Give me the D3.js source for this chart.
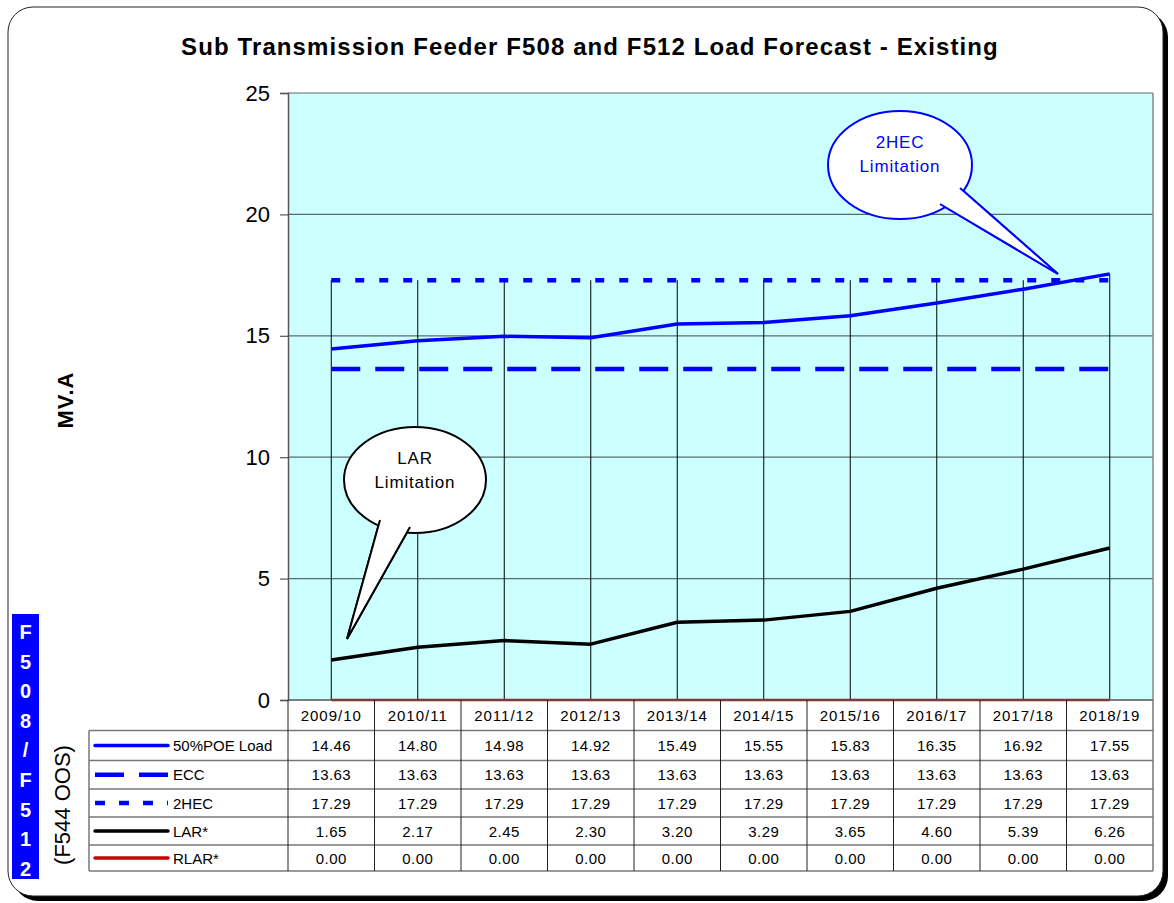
<!DOCTYPE html>
<html><head><meta charset="utf-8">
<script src="https://cdn.jsdelivr.net/npm/d3@7"></script>
<style>body{margin:0;background:#fff;} svg{display:block;font-family:"Liberation Sans",Arial,sans-serif;}</style>
</head><body>
<script>
const categories = ["2009/10","2010/11","2011/12","2012/13","2013/14","2014/15","2015/16","2016/17","2017/18","2018/19"];
const poe50 = [14.46,14.80,14.98,14.92,15.49,15.55,15.83,16.35,16.92,17.55];
const ecc   = [13.63,13.63,13.63,13.63,13.63,13.63,13.63,13.63,13.63,13.63];
const hec2  = [17.29,17.29,17.29,17.29,17.29,17.29,17.29,17.29,17.29,17.29];
const lar   = [1.65,2.17,2.45,2.30,3.20,3.29,3.65,4.60,5.39,6.26];
const rlar  = [0,0,0,0,0,0,0,0,0,0];
const yTicks = [0,5,10,15,20,25];
const seriesNames = ["50%POE Load","ECC","2HEC","LAR*","RLAR*"];
const title = "Sub Transmission Feeder F508 and F512 Load Forecast - Existing";

const W=1174,H=903;
const svg=d3.select("body").append("svg").attr("width",W).attr("height",H);

// frame
svg.append("rect").attr("x",13).attr("y",12).attr("width",1155).attr("height",889).attr("rx",25).attr("fill","#000");
svg.append("rect").attr("x",8).attr("y",7).attr("width",1155).attr("height",889).attr("rx",25).attr("fill","#fff").attr("stroke","#222").attr("stroke-width",1);

const pl=288,pr=1153,pt=93,pb=700;
const x=d3.scaleBand().domain(categories).range([pl,pr]);
const cx=c=>x(c)+x.bandwidth()/2;
const y=d3.scaleLinear().domain([0,25]).range([pb,pt]);

// plot background
svg.append("rect").attr("x",pl).attr("y",pt).attr("width",pr-pl).attr("height",pb-pt).attr("fill","#CCFFFF");

// gridlines
svg.append("g").selectAll("line").data(yTicks.filter(t=>t>0)).join("line")
  .attr("x1",pl).attr("x2",pr).attr("y1",d=>y(d)).attr("y2",d=>y(d)).attr("stroke","#5a6a6a").attr("stroke-width",1.2);

// y axis
const yAxis=d3.axisLeft(y).tickValues(yTicks).tickSize(8).tickPadding(10).tickFormat(d3.format("d"));
const ga=svg.append("g").attr("transform",`translate(${pl},0)`).call(yAxis);
ga.select(".domain").attr("stroke","#555").attr("stroke-width",1.5);
ga.selectAll(".tick line").attr("stroke","#555").attr("stroke-width",1.2);
ga.selectAll("text").attr("font-size",22).attr("font-family","Liberation Sans, Arial, sans-serif").attr("fill","#000");
svg.append("line").attr("x1",pr).attr("x2",pr).attr("y1",pt).attr("y2",pb).attr("stroke","#888").attr("stroke-width",1.5);

// drop lines
const maxv=categories.map((c,i)=>Math.max(poe50[i],ecc[i],hec2[i],lar[i],rlar[i]));
svg.append("g").selectAll("line").data(categories).join("line")
  .attr("x1",d=>cx(d)).attr("x2",d=>cx(d)).attr("y1",(d,i)=>y(maxv[i])).attr("y2",pb).attr("stroke","#000").attr("stroke-width",1);

const line=d3.line().x((d,i)=>cx(categories[i])).y(d=>y(d));
const styles=[
  {data:poe50,color:"#0000FF",w:3.5,dash:null},
  {data:ecc,color:"#0000FF",w:4.5,dash:"29,15"},
  {data:hec2,color:"#0000FF",w:4.5,dash:"9,15"},
  {data:lar,color:"#000",w:3.5,dash:null},
  {data:rlar,color:"#CC0000",w:2.5,dash:null}
];
[1,2,0,3,4].forEach(k=>{
  const s=styles[k];
  svg.append("path").datum(s.data).attr("d",line).attr("fill","none").attr("stroke",s.color)
    .attr("stroke-width",s.w).attr("stroke-dasharray",s.dash).attr("stroke-linejoin","round");
});

// callouts
function callout(ex,ey,rx,ry,b1,b2,tip,color,lines,ty){
  const g=svg.append("g");
  const tail=`M${b1[0]},${b1[1]} L${tip[0]},${tip[1]} L${b2[0]},${b2[1]}`;
  g.append("path").attr("d",tail).attr("fill","#fff").attr("stroke",color).attr("stroke-width",2);
  g.append("ellipse").attr("cx",ex).attr("cy",ey).attr("rx",rx).attr("ry",ry).attr("fill","#fff").attr("stroke",color).attr("stroke-width",2);
  g.append("path").attr("d",tail).attr("fill","#fff").attr("stroke","none");
  g.append("path").attr("d",tail).attr("fill","none").attr("stroke",color).attr("stroke-width",2);
  lines.forEach((t,i)=>g.append("text").attr("x",ex).attr("y",ty+i*24).attr("text-anchor","middle").attr("font-size",17).attr("letter-spacing",0.8).attr("fill",color).text(t));
}
callout(415,480,71,53,[380,520],[410,527],[347,639],"#000",["LAR","Limitation"],464);
callout(900,165,72,54,[960,188],[940,204],[1058,274],"#0000FF",["2HEC","Limitation"],148);

// table
const tt=700, hh=30.5, rh=[30,28.5,28,28,26];
const rowY=[tt+hh]; rh.forEach((h,i)=>rowY.push(rowY[i]+h));
const tl=89;
const tg=svg.append("g");
categories.forEach(c=>{
  tg.append("text").attr("x",cx(c)).attr("y",tt+hh/2+5.5).attr("text-anchor","middle").attr("font-size",15).attr("letter-spacing",1).text(c);
});
const allData=[poe50,ecc,hec2,lar,rlar];
allData.forEach((arr,r)=>{
  const ym=(rowY[r]+rowY[r+1])/2;
  arr.forEach((v,i)=>tg.append("text").attr("x",cx(categories[i])).attr("y",ym+5.5).attr("text-anchor","middle").attr("font-size",15).attr("letter-spacing",0.4).text(v.toFixed(2)));
  const s=styles[r];
  tg.append("line").attr("x1",95).attr("x2",168).attr("y1",ym).attr("y2",ym).attr("stroke",s.color).attr("stroke-width",s.dash? 4.5: 3.5)
    .attr("stroke-dasharray",s.dash?(r===1?"29,15":"10,14"):null).attr("stroke-linecap",s.dash?"butt":"round");
  tg.append("text").attr("x",173).attr("y",ym+5.5).attr("font-size",15).text(seriesNames[r]);
});
rowY.forEach((yy,i)=>tg.append("line").attr("x1",tl).attr("x2",pr).attr("y1",yy).attr("y2",yy).attr("stroke","#777").attr("stroke-width",1.5));
tg.append("line").attr("x1",pl).attr("x2",pr).attr("y1",tt).attr("y2",tt).attr("stroke","#555").attr("stroke-width",1.5);
tg.append("line").attr("x1",tl).attr("x2",tl).attr("y1",rowY[0]).attr("y2",rowY[5]).attr("stroke","#777").attr("stroke-width",1.5);
categories.forEach(c=>tg.append("line").attr("x1",x(c)).attr("x2",x(c)).attr("y1",tt).attr("y2",rowY[5]).attr("stroke","#222").attr("stroke-width",1));
tg.append("line").attr("x1",pr).attr("x2",pr).attr("y1",tt).attr("y2",rowY[5]).attr("stroke","#777").attr("stroke-width",1.5);

// title
svg.append("text").attr("x",590).attr("y",55).attr("text-anchor","middle").attr("font-size",24).attr("letter-spacing",1.1).attr("font-weight","bold").text(title);

// axis title
svg.append("text").attr("transform","translate(73,400) rotate(-90)").attr("text-anchor","middle").attr("font-size",22).attr("font-weight","bold").attr("letter-spacing",1).text("MV.A");

// left blue box
svg.append("rect").attr("x",12).attr("y",614).attr("width",27).attr("height",265).attr("fill","#0000FF");
"F508/F512".split("").forEach((ch,i)=>svg.append("text").attr("x",25.5).attr("y",639+i*29.6).attr("text-anchor","middle").attr("font-size",20).attr("font-weight","bold").attr("fill","#fff").text(ch));
svg.append("text").attr("transform","translate(70,805) rotate(-90)").attr("text-anchor","middle").attr("font-size",22).text("(F544 OOS)");
</script>
</body></html>
